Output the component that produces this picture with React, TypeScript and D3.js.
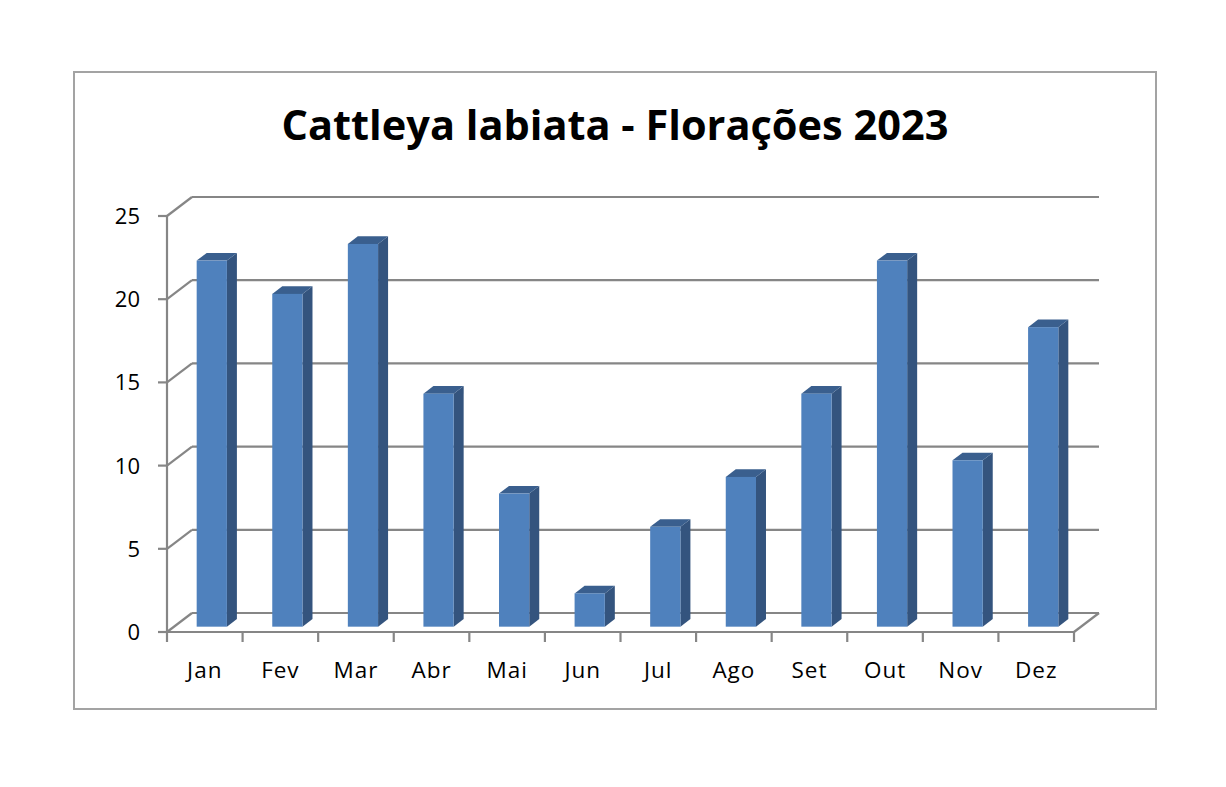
import * as d3 from 'd3';

// Monthly flowering counts
const months = ['Jan', 'Fev', 'Mar', 'Abr', 'Mai', 'Jun', 'Jul', 'Ago', 'Set', 'Out', 'Nov', 'Dez'];
const floracoes = [22, 20, 23, 14, 8, 2, 6, 9, 14, 22, 10, 18];
const yTicks = [0, 5, 10, 15, 20, 25];
const title = 'Cattleya labiata - Florações 2023';

const W = 1226;
const H = 787;
const FONT = "'Open Sans', 'DejaVu Sans', sans-serif";

// 3D depth of the plot floor / side wall
const depthX = 25;
const depthY = -19;
const barFront = 0.28;
const barBack = 0.68;

const GRID = '#868686';

const App = () => {
  const x = d3.scaleBand<string>()
    .domain(months)
    .range([167, 1074])
    .paddingInner(0.6)
    .paddingOuter(0.3);

  const y = d3.scaleLinear().domain([0, 25]).range([632, 216]);

  const x0 = x.range()[0];
  const x1 = x.range()[1];
  const step = x.step();

  const bw = x.bandwidth();
  const fdx = depthX * barFront;
  const fdy = depthY * barFront;
  const bdx = depthX * (barBack - barFront);
  const bdy = depthY * (barBack - barFront);

  return (
    <svg width={W} height={H} style={{ position: 'absolute', left: 0, top: 0, background: '#fff' }}>
      <rect x={74} y={72} width={1082} height={637} fill="#fff" stroke="#a3a3a3" strokeWidth={2} />

      <text x={615} y={140} textAnchor="middle" fontFamily={FONT} fontWeight="bold" fontSize={41.5} fill="#000">
        {title}
      </text>

      {/* back wall gridlines and left wall diagonals */}
      {yTicks.map(t => (
        <g key={t}>
          <line x1={x0 + depthX} x2={x1 + depthX} y1={y(t) + depthY} y2={y(t) + depthY} stroke={GRID} strokeWidth={2.2} />
          <line x1={x0} x2={x0 + depthX} y1={y(t)} y2={y(t) + depthY} stroke={GRID} strokeWidth={2.2} />
          <line x1={x0 - 9} x2={x0} y1={y(t)} y2={y(t)} stroke={GRID} strokeWidth={2.2} />
          <text x={140} y={y(t) + 8} textAnchor="end" fontFamily={FONT} fontSize={22} fill="#000">{t}</text>
        </g>
      ))}

      {/* floor front edge and right side */}
      <line x1={x0} x2={x1} y1={y(0)} y2={y(0)} stroke={GRID} strokeWidth={2.2} />
      <line x1={x1} x2={x1 + depthX} y1={y(0)} y2={y(0) + depthY} stroke={GRID} strokeWidth={2.2} />
      <line x1={x0} x2={x0} y1={y(25)} y2={y(0)} stroke={GRID} strokeWidth={2.2} />

      {d3.range(months.length + 1).map(i => (
        <line key={i} x1={x0 + i * step} x2={x0 + i * step} y1={y(0)} y2={y(0) + 10} stroke={GRID} strokeWidth={2.2} />
      ))}

      {months.map((m, i) => {
        const bx = (x(m) ?? 0) + fdx;
        const by = y(floracoes[i]) + fdy;
        const bb = y(0) + fdy;
        return (
          <g key={m}>
            <polygon
              points={`${bx + bw},${by} ${bx + bw + bdx},${by + bdy} ${bx + bw + bdx},${bb + bdy} ${bx + bw},${bb}`}
              fill="#34547e"
            />
            <polygon
              points={`${bx},${by} ${bx + bdx},${by + bdy} ${bx + bw + bdx},${by + bdy} ${bx + bw},${by}`}
              fill="#3a5f8e"
            />
            <rect x={bx} y={by} width={bw} height={bb - by} fill="#4f81bd" />
          </g>
        );
      })}

      {months.map(m => (
        <text key={m} x={(x(m) ?? 0) + bw / 2} y={678} textAnchor="middle" fontFamily={FONT} fontSize={22.5} letterSpacing={1} fill="#000">
          {m}
        </text>
      ))}
    </svg>
  );
};

export default App;
